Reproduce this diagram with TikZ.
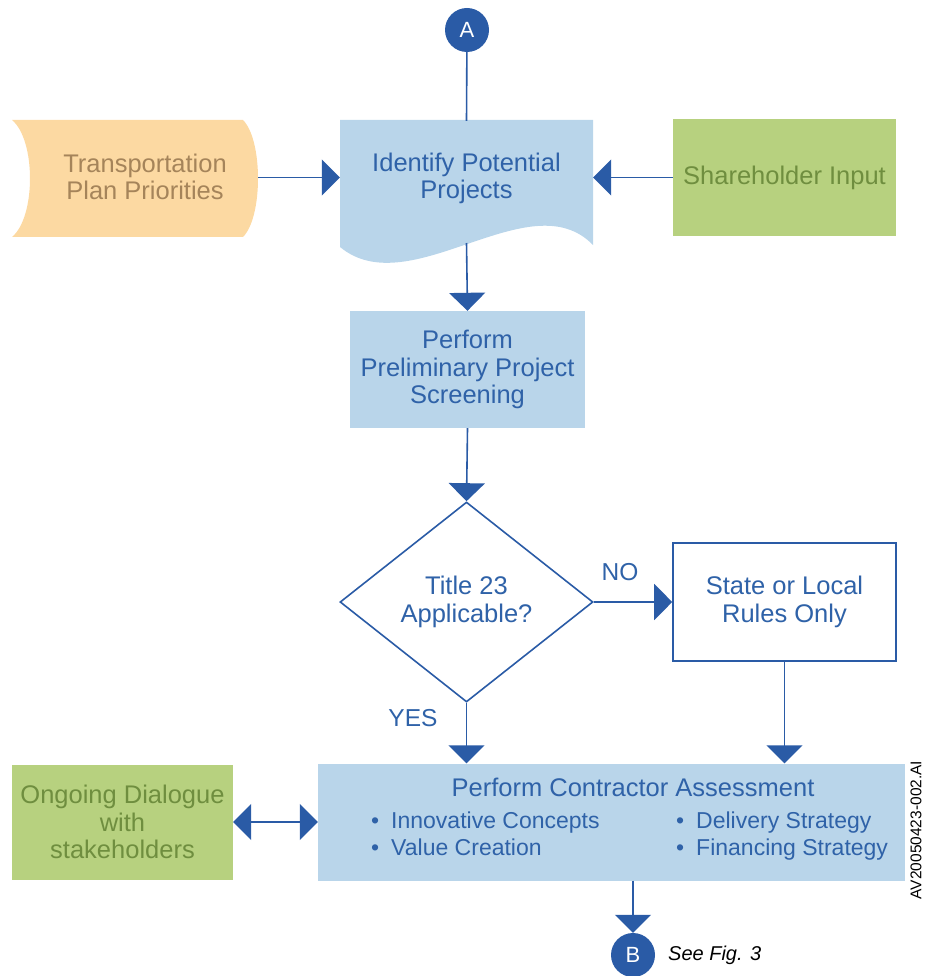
\documentclass[tikz,border=0pt]{standalone}
\usepackage{fontspec}
\setmainfont{Liberation Sans}
\usetikzlibrary{arrows.meta,shapes.geometric}
\definecolor{dkblue}{HTML}{2A5BA6}
\definecolor{txtblue}{HTML}{2F62A8}
\definecolor{ltblue}{HTML}{B9D5EA}
\definecolor{orfill}{HTML}{FCD9A2}
\definecolor{ortext}{HTML}{A5845A}
\definecolor{grfill}{HTML}{B7D17F}
\definecolor{grtext}{HTML}{6F8E3F}
\begin{document}
\begin{tikzpicture}[x=1pt,y=-1pt,
    conn/.style = {draw=dkblue, line width=1.6pt},
    tip/.style = {-{Triangle[width=36pt,length=18pt]}},
    big/.style = {font=\fontsize{25.5}{27.5}\selectfont, align=center},
    bullet/.style = {text=txtblue, font=\fontsize{23}{27}\selectfont, anchor=base west, inner sep=0pt},
    bluebox/.style = {big, fill=ltblue, text=txtblue, inner sep=0pt},
    greenbox/.style = {big, fill=grfill, text=grtext, inner sep=0pt},
    linebox/.style = {big, draw=dkblue, line width=1.6pt, fill=white, text=txtblue, inner sep=0pt},
    conbox/.style = {circle, fill=dkblue, text=white, minimum size=44pt, inner sep=0pt,
                     font=\fontsize{22}{26}\selectfont}]
\useasboundingbox (0,0) rectangle (925,976);
% input shapes
\fill[orfill] (12,120) -- (243,120) .. controls (263,140) and (263,217) .. (243,237)
   -- (12,237) .. controls (36,217) and (36,140) .. (12,120) -- cycle;
\fill[ltblue] (340,120) -- (593,120) -- (593,245) .. controls (530,180) and (410,305) .. (340,247) -- cycle;
\node[big, text=ortext, inner sep=0pt] (trans) at (145,177) {Transportation\\Plan Priorities};
\coordinate (transE) at (258,177.5);
\node[big, text=txtblue, inner sep=0pt, minimum width=253pt, minimum height=115pt] (ident) at (466.5,178.5) {Identify Potential\\Projects};
\coordinate (identS) at (466.5,243);
\node[greenbox, minimum width=223pt, minimum height=117pt] (share) at (784.5,177.5) {Shareholder Input};
\node[conbox] (A) at (467,30) {A};
% main column
\node[bluebox, minimum width=235pt, minimum height=117pt] (screen) at (467.5,369.5) {Perform\\Preliminary Project\\Screening};
\node[diamond, draw=dkblue, line width=1.6pt, fill=white, text=txtblue, big, inner sep=0pt,
      minimum width=253pt, minimum height=200pt] (title) at (466.5,602) {Title 23\\Applicable?};
\node[linebox, minimum width=223pt, minimum height=118pt] (state) at (784.5,602) {State or Local\\Rules Only};
\node[bluebox, minimum width=587pt, minimum height=117pt] (assess) at (611.5,822) {};
\node[greenbox, minimum width=221pt, minimum height=115pt] (dialog) at (122.5,822) {Ongoing Dialogue\\with\\stakeholders};
\node[conbox] (B) at (633,955) {B};
% contractor assessment text
\node[text=txtblue, font=\fontsize{25.5}{28}\selectfont] (asstitle) at (633,787) {Perform Contractor Assessment};
\node[bullet] (b1) at (371,828) {\textbullet\hspace{12pt}Innovative Concepts};
\node[bullet] (b2) at (371,855) {\textbullet\hspace{12pt}Value Creation};
\node[bullet] (b3) at (676,828) {\textbullet\hspace{12pt}Delivery Strategy};
\node[bullet] (b4) at (676,855) {\textbullet\hspace{12pt}Financing Strategy};
% labels
\node[text=txtblue, font=\fontsize{24.5}{26}\selectfont] (no) at (620,572) {NO};
\node[text=txtblue, font=\fontsize{24.5}{26}\selectfont] (yes) at (413,718) {YES};
\node[anchor=west, inner sep=0pt, font=\fontsize{20}{22}\selectfont\itshape] (seefig) at (668,955) {See Fig. 3};
\node[rotate=90, font=\fontsize{15.5}{17}\selectfont] (code) at (916,830) {AV20050423-002.AI};
% connectors
\draw[conn] (A) -- (ident.north);
\draw[conn, tip] (transE) -- (ident.west |- transE);
\draw[conn, tip] (share.west) -- (ident.east |- share.west);
\draw[conn, tip] (identS) -- (screen.north);
\draw[conn, tip] (screen.south) -- (title.north);
\draw[conn, tip] (title.east) -- (state.west);
\draw[conn, tip] (title.south) -- (title.south |- assess.north);
\draw[conn, tip] (state.south) -- (state.south |- assess.north);
\draw[conn, {Triangle[width=36pt,length=18pt]}-{Triangle[width=36pt,length=18pt]}] (dialog.east) -- (assess.west);
\draw[conn, tip] (B.north |- assess.south) -- (B.north);
\end{tikzpicture}
\end{document}
